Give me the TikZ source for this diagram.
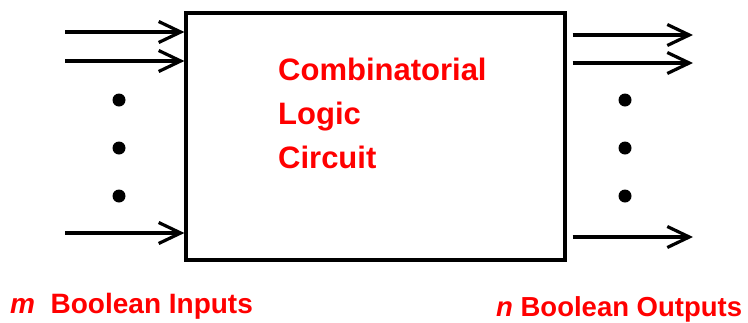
\documentclass[tikz,border=0pt]{standalone}
\usepackage{fontspec}
\setmainfont{Liberation Sans}
\usetikzlibrary{arrows.meta}

\begin{document}
\begin{tikzpicture}[x=1pt, y=-1pt,
        wire/.style={line width=3.2pt, -{Straight Barb[length=22pt, width=21pt, line width=3.2pt]}},
        dot/.style={circle, fill=black, inner sep=0pt, minimum size=13pt},
        box_text/.style={text=red, inner sep=0pt, align=left, font=\bfseries\fontsize{31}{44}\selectfont},
        io_label/.style={text=red, inner sep=0pt, anchor=base west, font=\bfseries\fontsize{28}{30}\selectfont}
    ]
    \useasboundingbox (0,0) rectangle (748,322);

    % --- Blocco combinatorio ---
    \node[draw, line width=3.2pt, inner sep=0pt, minimum width=379pt, minimum height=247pt] (clc) at (375.5,136.5) {};
    \node[box_text, anchor=north west] (title) at (278,58) {Combinatorial\\Logic\\Circuit};

    % --- Ingressi ---
    \coordinate (in1) at (65,32);
    \coordinate (in2) at (65,61);
    \coordinate (inm) at (65,233);
    \foreach \i in {in1,in2,inm}
        \draw[wire] (\i) -- (\i -| clc.west);

    % --- Uscite ---
    \coordinate (out1) at (693,35);
    \coordinate (out2) at (693,63);
    \coordinate (outn) at (693,237);
    \foreach \o in {out1,out2,outn}
        \draw[wire] ([xshift=6pt]\o -| clc.east) -- (\o);

    % Puntini
    \foreach \y in {100,148,196} {
        \node[dot] (ldot\y) at (119,\y) {};
        \node[dot] (rdot\y) at (625,\y) {};
    }

    % --- Etichette ---
    \node[io_label] (inlabel) at (10,313) {\textit{m}\ \ Boolean Inputs};
    \node[io_label, font=\bfseries\fontsize{27.5}{30}\selectfont] (outlabel) at (496,316) {\textit{n} Boolean Outputs};

\end{tikzpicture}
\end{document}
